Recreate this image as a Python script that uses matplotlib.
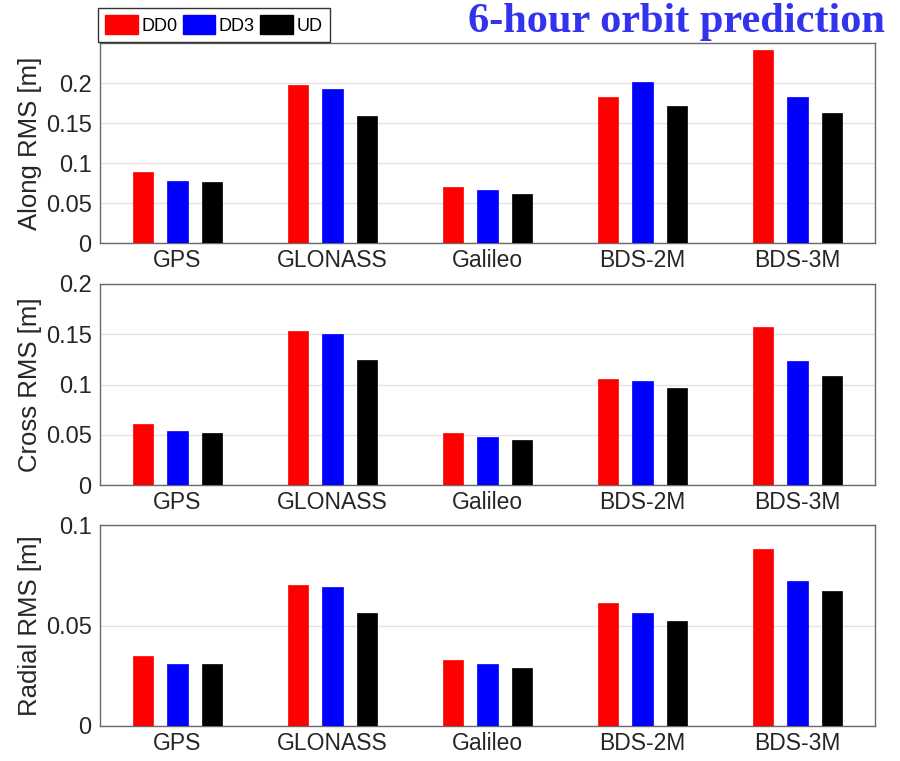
import matplotlib
matplotlib.use("Agg")
import matplotlib.pyplot as plt
import numpy as np
from matplotlib.patches import Patch

systems = ["GPS", "GLONASS", "Galileo", "BDS-2M", "BDS-3M"]
series = ["DD0", "DD3", "UD"]
colors = ["#ff0000", "#0000ff", "#000000"]

along_dd0 = [0.089, 0.197, 0.070, 0.182, 0.241]
along_dd3 = [0.078, 0.192, 0.066, 0.201, 0.183]
along_ud = [0.076, 0.159, 0.061, 0.171, 0.162]

cross_dd0 = [0.061, 0.153, 0.052, 0.105, 0.157]
cross_dd3 = [0.054, 0.150, 0.048, 0.103, 0.123]
cross_ud = [0.052, 0.124, 0.045, 0.097, 0.108]

radial_dd0 = [0.035, 0.070, 0.033, 0.061, 0.088]
radial_dd3 = [0.031, 0.069, 0.031, 0.056, 0.072]
radial_ud = [0.031, 0.056, 0.029, 0.052, 0.067]

panels = [
    ("Along RMS [m]", [along_dd0, along_dd3, along_ud], 0.25, [0, 0.05, 0.1, 0.15, 0.2], ["0", "0.05", "0.1", "0.15", "0.2"]),
    ("Cross RMS [m]", [cross_dd0, cross_dd3, cross_ud], 0.2, [0, 0.05, 0.1, 0.15, 0.2], ["0", "0.05", "0.1", "0.15", "0.2"]),
    ("Radial RMS [m]", [radial_dd0, radial_dd3, radial_ud], 0.1, [0, 0.05, 0.1], ["0", "0.05", "0.1"]),
]

plt.rcParams['font.family'] = ['Liberation Sans', 'DejaVu Sans']

fig = plt.figure(figsize=(9, 7.61), dpi=100)
rects = [
    [100/900, 1-243/761, 775/900, 200/761],
    [100/900, 1-485/761, 775/900, 201/761],
    [100/900, 1-726/761, 775/900, 201/761],
]

x = np.arange(1, len(systems)+1)
offsets = [-0.223, 0.0, 0.223]
width = 0.13

for rect, (ylabel, vals, ymax, yt, ytl) in zip(rects, panels):
    ax = fig.add_axes(rect)
    for v, off, c in zip(vals, offsets, colors):
        ax.bar(x + off, v, width=width, color=c, edgecolor=c, linewidth=0.5, zorder=3)
    ax.set_xlim(0.5, 5.5)
    ax.set_ylim(0, ymax)
    ax.set_yticks(yt)
    ax.set_yticklabels(ytl)
    ax.set_xticks(x)
    ax.set_xticklabels(systems)
    ax.tick_params(axis='y', length=0, labelsize=17, colors='#262626', pad=6)
    ax.tick_params(axis='x', length=0, labelsize=16.5, colors='#262626', pad=4)
    ax.yaxis.grid(True, color='#e3e3e3', linewidth=1, zorder=0)
    ax.set_axisbelow(True)
    for s in ax.spines.values():
        s.set_color('#6a6a6a')
        s.set_linewidth(1.0)
    ax.set_ylabel(ylabel, fontsize=18.5, color='#262626', labelpad=3)

handles = [Patch(facecolor=c, edgecolor=c) for c in colors]
leg = fig.legend(handles, series, loc='upper left', bbox_to_anchor=(98/900, 1-8/761),
                 ncol=3, fontsize=13, frameon=True, fancybox=False, edgecolor='black',
                 handlelength=1.8, handleheight=1.2, handletextpad=0.2, columnspacing=0.3,
                 borderpad=0.4, borderaxespad=0)
leg.get_frame().set_linewidth(1.0)

fig.text(468/900, 1-22/761, "6-hour orbit prediction", family=['Liberation Serif', 'DejaVu Serif'],
         fontweight='bold', fontsize=30.5, color='#3333ee', ha='left', va='center')

fig.savefig("out.png", dpi=100)
